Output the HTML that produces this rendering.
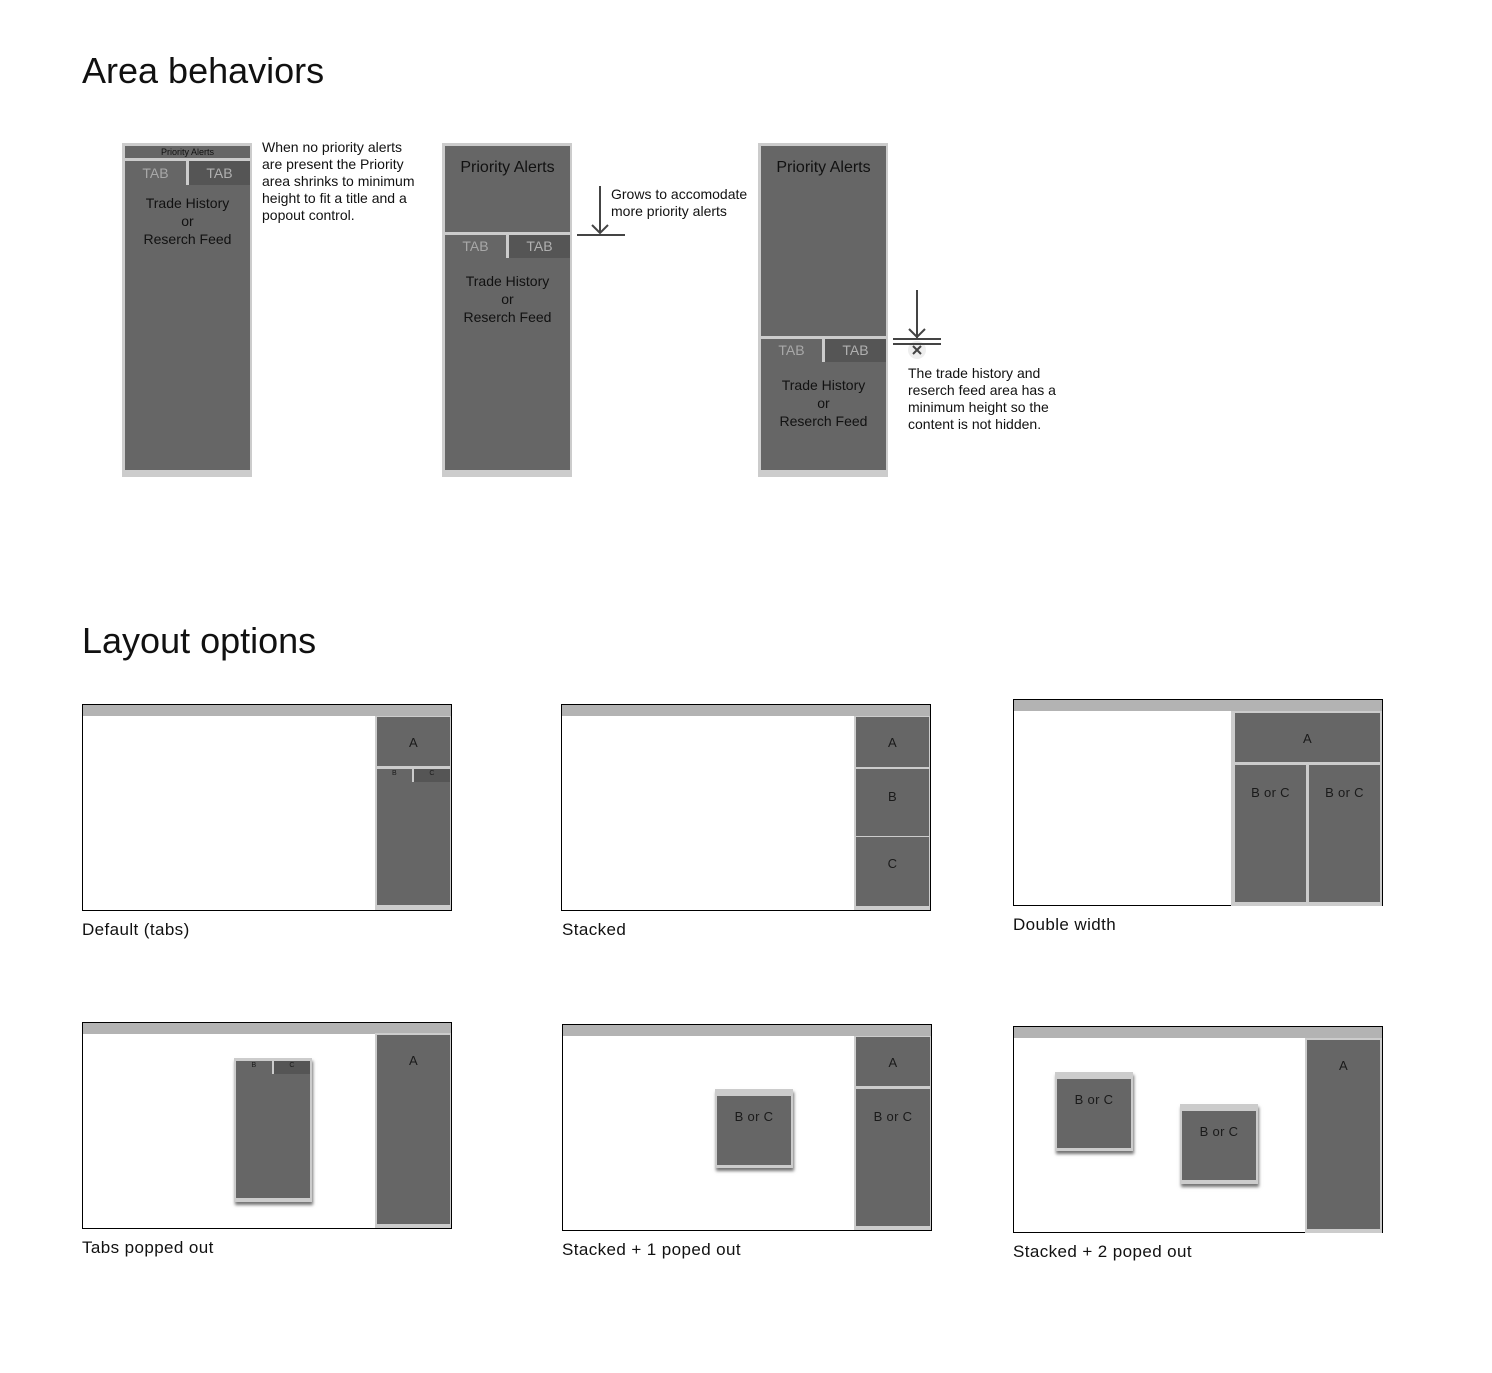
<!DOCTYPE html>
<html><head><meta charset="utf-8"><style>
*{margin:0;padding:0;box-sizing:border-box}
body{width:1492px;height:1373px;background:#fff;position:relative;overflow:hidden;font-family:"Liberation Sans",Arial,sans-serif;color:#111}
.r{position:absolute}
.lt{background:#cccccc}
.dk{background:#666666}
.dk2{background:#555555}
.bar{background:#b3b3b3}
.fr{position:absolute;border:1px solid #000;background:#fff}
.t{position:absolute;text-align:center;color:#111;font-size:14px;line-height:18px}
.h1{position:absolute;font-size:36px;line-height:36px;color:#111}
.lbl{position:absolute;font-size:17px;line-height:20px;color:#111;letter-spacing:0.4px}
.note{position:absolute;font-size:14px;line-height:17px;color:#111}
.sh{box-shadow:1px 3px 3px rgba(0,0,0,.55)}
.lc{color:#1a1a1a;font-size:13px;position:absolute;text-align:center;letter-spacing:0.3px}
</style></head><body>

<div class="h1" style="left:82px;top:53px">Area behaviors</div>
<div class="h1" style="left:82px;top:623px">Layout options</div>

<!-- Panel 1 -->
<div class="r lt" style="left:122px;top:143px;width:130px;height:334px"></div>
<div class="r dk" style="left:125px;top:146px;width:125px;height:324px"></div>
<div class="r lt" style="left:125px;top:158px;width:125px;height:3px"></div>
<div class="t" style="left:125px;top:146px;width:125px;font-size:9px;line-height:13px">Priority Alerts</div>
<div class="r lt" style="left:186px;top:161px;width:3px;height:24px"></div>
<div class="r dk2" style="left:189px;top:161px;width:61px;height:24px"></div>
<div class="t" style="left:125px;top:164px;width:61px;color:#a8a8a8">TAB</div>
<div class="t" style="left:189px;top:164px;width:61px;color:#b0b0b0">TAB</div>
<div class="t" style="left:125px;top:194px;width:125px">Trade History<br>or<br>Reserch Feed</div>
<div class="note" style="left:262px;top:139px">When no priority alerts<br>are present the Priority<br>area shrinks to minimum<br>height to fit a title and a<br>popout control.</div>

<!-- Panel 2 -->
<div class="r lt" style="left:442px;top:143px;width:130px;height:334px"></div>
<div class="r dk" style="left:445px;top:146px;width:125px;height:324px"></div>
<div class="t" style="left:445px;top:159px;width:125px;font-size:16px">Priority Alerts</div>
<div class="r lt" style="left:445px;top:232px;width:125px;height:3px"></div>
<div class="r lt" style="left:506px;top:235px;width:3px;height:23px"></div>
<div class="r dk2" style="left:509px;top:235px;width:61px;height:23px"></div>
<div class="t" style="left:445px;top:237px;width:61px;color:#a8a8a8">TAB</div>
<div class="t" style="left:509px;top:237px;width:61px;color:#b0b0b0">TAB</div>
<div class="t" style="left:445px;top:272px;width:125px">Trade History<br>or<br>Reserch Feed</div>
<svg class="r" style="left:570px;top:180px" width="70" height="65">
<line x1="30" y1="6" x2="30" y2="53" stroke="#444" stroke-width="2"/>
<polyline points="22,45 30,53 38,45" fill="none" stroke="#444" stroke-width="2"/>
<line x1="7" y1="55" x2="55" y2="55" stroke="#444" stroke-width="2"/>
</svg>
<div class="note" style="left:611px;top:186px">Grows to accomodate<br>more priority alerts</div>

<!-- Panel 3 -->
<div class="r lt" style="left:758px;top:143px;width:130px;height:334px"></div>
<div class="r dk" style="left:761px;top:146px;width:125px;height:324px"></div>
<div class="t" style="left:761px;top:159px;width:125px;font-size:16px">Priority Alerts</div>
<div class="r lt" style="left:761px;top:336px;width:125px;height:3px"></div>
<div class="r lt" style="left:822px;top:339px;width:3px;height:23px"></div>
<div class="r dk2" style="left:825px;top:339px;width:61px;height:23px"></div>
<div class="t" style="left:761px;top:341px;width:61px;color:#a8a8a8">TAB</div>
<div class="t" style="left:825px;top:341px;width:61px;color:#b0b0b0">TAB</div>
<div class="t" style="left:761px;top:376px;width:125px">Trade History<br>or<br>Reserch Feed</div>
<svg class="r" style="left:880px;top:280px" width="70" height="80">
<circle cx="37" cy="70" r="9" fill="#eeeeee"/>
<line x1="37" y1="10" x2="37" y2="58" stroke="#444" stroke-width="2"/>
<polyline points="29,49 37,57 45,49" fill="none" stroke="#444" stroke-width="2"/>
<line x1="13" y1="59" x2="61" y2="59" stroke="#444" stroke-width="2"/>
<line x1="13" y1="64" x2="61" y2="64" stroke="#444" stroke-width="2"/>
<line x1="33" y1="66" x2="41" y2="74" stroke="#444" stroke-width="2"/>
<line x1="41" y1="66" x2="33" y2="74" stroke="#444" stroke-width="2"/>
</svg>
<div class="note" style="left:908px;top:365px">The trade history and<br>reserch feed area has a<br>minimum height so the<br>content is not hidden.</div>

<!-- Layout 1: Default -->
<div class="fr" style="left:82px;top:704px;width:370px;height:207px"></div>
<div class="r bar" style="left:83px;top:705px;width:368px;height:11px"></div>
<div class="r lt" style="left:375px;top:716px;width:76px;height:194px"></div>
<div class="r dk" style="left:377px;top:717px;width:73px;height:188px"></div>
<div class="r lt" style="left:377px;top:766px;width:73px;height:3px"></div>
<div class="lc" style="left:377px;top:735px;width:73px">A</div>
<div class="r lt" style="left:412px;top:769px;width:2px;height:13px"></div>
<div class="r dk2" style="left:414px;top:769px;width:36px;height:13px"></div>
<div class="lc" style="left:377px;top:770px;width:35px;font-size:7px">B</div>
<div class="lc" style="left:414px;top:770px;width:36px;font-size:7px">C</div>
<div class="lbl" style="left:82px;top:920px">Default (tabs)</div>

<!-- Layout 2: Stacked -->
<div class="fr" style="left:561px;top:704px;width:370px;height:207px"></div>
<div class="r bar" style="left:562px;top:705px;width:368px;height:11px"></div>
<div class="r lt" style="left:854px;top:716px;width:76px;height:194px"></div>
<div class="r dk" style="left:856px;top:717px;width:73px;height:189px"></div>
<div class="r lt" style="left:856px;top:767px;width:73px;height:2px"></div>
<div class="r lt" style="left:856px;top:836px;width:73px;height:1px"></div>
<div class="lc" style="left:856px;top:735px;width:73px">A</div>
<div class="lc" style="left:856px;top:789px;width:73px">B</div>
<div class="lc" style="left:856px;top:856px;width:73px">C</div>
<div class="lbl" style="left:562px;top:920px">Stacked</div>

<!-- Layout 3: Double width -->
<div class="fr" style="left:1013px;top:699px;width:370px;height:207px"></div>
<div class="r bar" style="left:1014px;top:700px;width:368px;height:11px"></div>
<div class="r lt" style="left:1231px;top:711px;width:151px;height:195px"></div>
<div class="r dk" style="left:1235px;top:713px;width:145px;height:49px"></div>
<div class="r dk" style="left:1235px;top:765px;width:71px;height:137px"></div>
<div class="r dk" style="left:1309px;top:765px;width:71px;height:137px"></div>
<div class="lc" style="left:1235px;top:731px;width:145px">A</div>
<div class="lc" style="left:1235px;top:785px;width:71px">B or C</div>
<div class="lc" style="left:1309px;top:785px;width:71px">B or C</div>
<div class="lbl" style="left:1013px;top:915px">Double width</div>

<!-- Layout 4: Tabs popped out -->
<div class="fr" style="left:82px;top:1022px;width:370px;height:207px"></div>
<div class="r bar" style="left:83px;top:1023px;width:368px;height:11px"></div>
<div class="r lt" style="left:375px;top:1033px;width:76px;height:195px"></div>
<div class="r dk" style="left:377px;top:1035px;width:73px;height:189px"></div>
<div class="lc" style="left:377px;top:1053px;width:73px">A</div>
<div class="r lt sh" style="left:234px;top:1058px;width:78px;height:144px"></div>
<div class="r dk" style="left:236px;top:1061px;width:74px;height:137px"></div>
<div class="r lt" style="left:272px;top:1061px;width:2px;height:13px"></div>
<div class="r dk2" style="left:274px;top:1061px;width:36px;height:13px"></div>
<div class="lc" style="left:236px;top:1062px;width:36px;font-size:7px">B</div>
<div class="lc" style="left:274px;top:1062px;width:36px;font-size:7px">C</div>
<div class="lbl" style="left:82px;top:1238px">Tabs popped out</div>

<!-- Layout 5: Stacked + 1 -->
<div class="fr" style="left:562px;top:1024px;width:370px;height:207px"></div>
<div class="r bar" style="left:563px;top:1025px;width:368px;height:11px"></div>
<div class="r lt" style="left:854px;top:1036px;width:77px;height:194px"></div>
<div class="r dk" style="left:856px;top:1037px;width:74px;height:49px"></div>
<div class="r dk" style="left:856px;top:1089px;width:74px;height:137px"></div>
<div class="lc" style="left:856px;top:1055px;width:74px">A</div>
<div class="lc" style="left:856px;top:1109px;width:74px">B or C</div>
<div class="r lt sh" style="left:715px;top:1089px;width:78px;height:79px"></div>
<div class="r dk" style="left:717px;top:1096px;width:74px;height:69px"></div>
<div class="lc" style="left:717px;top:1109px;width:74px">B or C</div>
<div class="lbl" style="left:562px;top:1240px">Stacked + 1 poped out</div>

<!-- Layout 6: Stacked + 2 -->
<div class="fr" style="left:1013px;top:1026px;width:370px;height:207px"></div>
<div class="r bar" style="left:1014px;top:1027px;width:368px;height:11px"></div>
<div class="r lt" style="left:1305px;top:1038px;width:77px;height:195px"></div>
<div class="r dk" style="left:1307px;top:1040px;width:73px;height:189px"></div>
<div class="lc" style="left:1307px;top:1058px;width:73px">A</div>
<div class="r lt sh" style="left:1055px;top:1072px;width:78px;height:79px"></div>
<div class="r dk" style="left:1057px;top:1079px;width:74px;height:69px"></div>
<div class="lc" style="left:1057px;top:1092px;width:74px">B or C</div>
<div class="r lt sh" style="left:1180px;top:1104px;width:78px;height:80px"></div>
<div class="r dk" style="left:1182px;top:1111px;width:74px;height:69px"></div>
<div class="lc" style="left:1182px;top:1124px;width:74px">B or C</div>
<div class="lbl" style="left:1013px;top:1242px">Stacked + 2 poped out</div>

</body></html>
